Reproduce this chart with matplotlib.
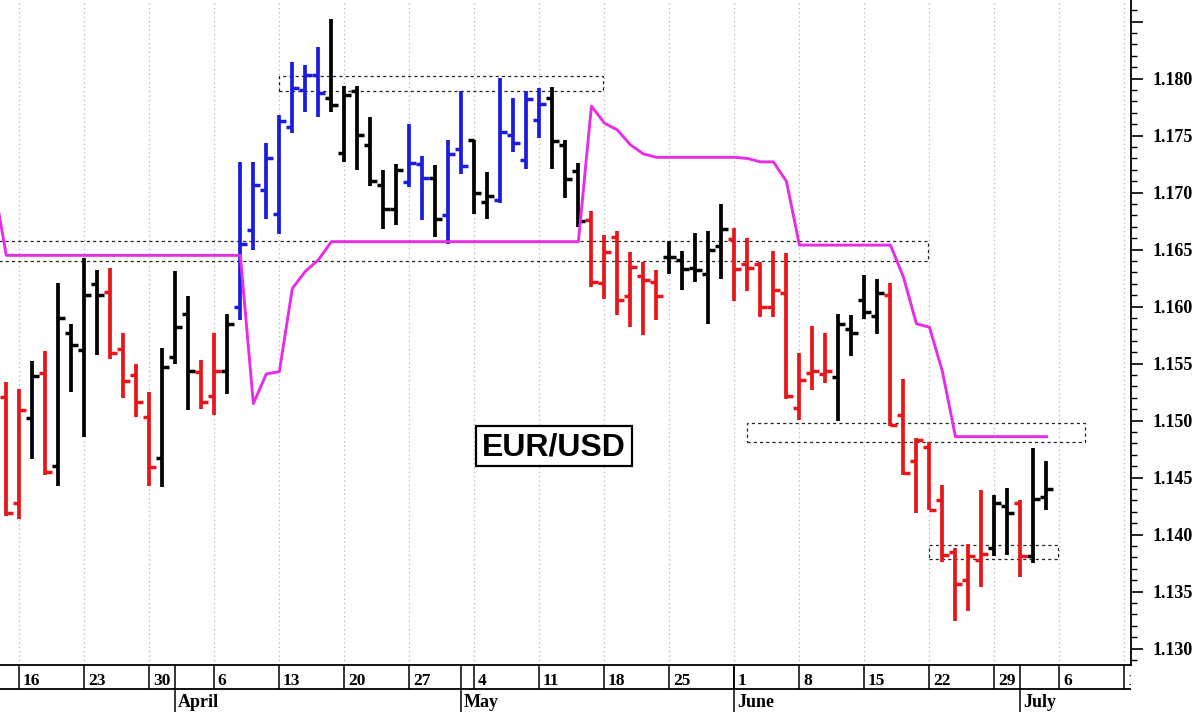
import matplotlib
matplotlib.use('Agg')
import matplotlib.pyplot as plt
from matplotlib.ticker import MultipleLocator, FuncFormatter
from matplotlib.patches import Rectangle

plt.rcParams['font.family'] = ['Liberation Serif', 'DejaVu Serif']
plt.rcParams['font.weight'] = 'bold'

# daily bars, index 0 = Monday 16 March
bar_x = list(range(-1, 80))
opens = [1.1521, 1.1428, 1.1502, 1.1542, 1.1460, 1.1577, 1.1562, 1.1620, 1.1613, 1.1563,
         1.1540, 1.1503, 1.1467, 1.1556, 1.1594, 1.1543, 1.1522, 1.1544, 1.1600, 1.1667,
         1.1702, 1.1681, 1.1758, 1.1790, 1.1803, 1.1783, 1.1735, 1.1789, 1.1742, 1.1707,
         1.1686, 1.1709, 1.1725, 1.1713, 1.1680, 1.1738, 1.1746, 1.1692, 1.1694, 1.1751,
         1.1729, 1.1764, 1.1783, 1.1742, 1.1719, 1.1676, 1.1621, 1.1661, 1.1609, 1.1627,
         1.1622, 1.1644, 1.1641, 1.1634, 1.1629, 1.1653, 1.1659, 1.1637, 1.1637, 1.1600,
         1.1612, 1.1511, 1.1542, 1.1541, 1.1538, 1.1580, 1.1606, 1.1592, 1.1610, 1.1505,
         1.1465, 1.1477, 1.1430, 1.1385, 1.1360, 1.1378, 1.1388, 1.1425, 1.1428, 1.1381,
         1.1433]
highs = [1.1534, 1.1528, 1.1552, 1.1561, 1.1621, 1.1585, 1.1643, 1.1632, 1.1634, 1.1577,
         1.1550, 1.1525, 1.1564, 1.1631, 1.1609, 1.1553, 1.1577, 1.1594, 1.1727, 1.1727,
         1.1744, 1.1768, 1.1815, 1.1812, 1.1828, 1.1852, 1.1794, 1.1794, 1.1766, 1.1720,
         1.1725, 1.1760, 1.1732, 1.1724, 1.1746, 1.1789, 1.1746, 1.1718, 1.1801, 1.1783,
         1.1789, 1.1792, 1.1793, 1.1746, 1.1726, 1.1684, 1.1663, 1.1666, 1.1648, 1.1639,
         1.1632, 1.1658, 1.1649, 1.1665, 1.1666, 1.1690, 1.1669, 1.1660, 1.1639, 1.1649,
         1.1647, 1.1559, 1.1583, 1.1577, 1.1594, 1.1593, 1.1628, 1.1624, 1.1621, 1.1537,
         1.1485, 1.1481, 1.1444, 1.1388, 1.1392, 1.1439, 1.1435, 1.1441, 1.1430, 1.1476,
         1.1465]
lows = [1.1416, 1.1414, 1.1466, 1.1452, 1.1443, 1.1525, 1.1486, 1.1558, 1.1554, 1.1520,
        1.1503, 1.1443, 1.1442, 1.1550, 1.1509, 1.1510, 1.1505, 1.1523, 1.1588, 1.1650,
        1.1677, 1.1664, 1.1752, 1.1771, 1.1766, 1.1771, 1.1727, 1.1720, 1.1706, 1.1668,
        1.1672, 1.1705, 1.1676, 1.1661, 1.1655, 1.1716, 1.1681, 1.1677, 1.1691, 1.1736,
        1.1721, 1.1748, 1.1721, 1.1695, 1.1670, 1.1617, 1.1607, 1.1593, 1.1582, 1.1575,
        1.1588, 1.1629, 1.1615, 1.1622, 1.1585, 1.1624, 1.1605, 1.1614, 1.1591, 1.1591,
        1.1519, 1.1501, 1.1527, 1.1533, 1.1500, 1.1557, 1.1589, 1.1576, 1.1495, 1.1452,
        1.1419, 1.1422, 1.1376, 1.1324, 1.1333, 1.1354, 1.1381, 1.1382, 1.1363, 1.1375,
        1.1422]
closes = [1.1419, 1.1509, 1.1539, 1.1455, 1.1590, 1.1566, 1.1610, 1.1610, 1.1559, 1.1535,
          1.1516, 1.1459, 1.1547, 1.1582, 1.1544, 1.1516, 1.1544, 1.1585, 1.1655, 1.1707,
          1.1730, 1.1763, 1.1792, 1.1803, 1.1787, 1.1777, 1.1786, 1.1751, 1.1710, 1.1686,
          1.1720, 1.1726, 1.1713, 1.1677, 1.1734, 1.1723, 1.1700, 1.1697, 1.1753, 1.1744,
          1.1782, 1.1778, 1.1745, 1.1712, 1.1675, 1.1622, 1.1648, 1.1606, 1.1635, 1.1623,
          1.1609, 1.1644, 1.1633, 1.1632, 1.1650, 1.1668, 1.1633, 1.1634, 1.1600, 1.1615,
          1.1522, 1.1536, 1.1544, 1.1544, 1.1585, 1.1577, 1.1595, 1.1612, 1.1496, 1.1454,
          1.1483, 1.1422, 1.1382, 1.1357, 1.1381, 1.1383, 1.1428, 1.1419, 1.1381, 1.1431,
          1.1440]
trend = ['r', 'r', 'k', 'r', 'k', 'k', 'k', 'k', 'r', 'r',
         'r', 'r', 'k', 'k', 'k', 'r', 'r', 'k', 'b', 'b',
         'b', 'b', 'b', 'b', 'b', 'k', 'k', 'k', 'k', 'k',
         'k', 'b', 'b', 'k', 'b', 'b', 'k', 'k', 'b', 'b',
         'b', 'b', 'k', 'k', 'k', 'r', 'r', 'r', 'r', 'r',
         'r', 'k', 'k', 'k', 'k', 'k', 'r', 'r', 'r', 'r',
         'r', 'r', 'r', 'r', 'k', 'k', 'k', 'k', 'r', 'r',
         'r', 'r', 'r', 'r', 'r', 'r', 'k', 'k', 'r', 'k',
         'k']

# magenta stop line
stop_x = list(range(-2, 80))
stop = [1.1710, 1.1645, 1.1645, 1.1645, 1.1645, 1.1645, 1.1645, 1.1645, 1.1645, 1.1645,
        1.1645, 1.1645, 1.1645, 1.1645, 1.1645, 1.1645, 1.1645, 1.1645, 1.1645, 1.1645,
        1.1515, 1.1541, 1.1543, 1.1616, 1.1631, 1.1641, 1.1657, 1.1657, 1.1657, 1.1657,
        1.1657, 1.1657, 1.1657, 1.1657, 1.1657, 1.1657, 1.1657, 1.1657, 1.1657, 1.1657,
        1.1657, 1.1657, 1.1657, 1.1657, 1.1657, 1.1657, 1.1776, 1.1761, 1.1755, 1.1742,
        1.1734, 1.1731, 1.1731, 1.1731, 1.1731, 1.1731, 1.1731, 1.1731, 1.1730, 1.1727,
        1.1727, 1.1710, 1.1654, 1.1654, 1.1654, 1.1654, 1.1654, 1.1654, 1.1654, 1.1654,
        1.1626, 1.1585, 1.1582, 1.1543, 1.1486, 1.1486, 1.1486, 1.1486, 1.1486, 1.1486,
        1.1486, 1.1486]

# dotted zones
zone_left = [20, -2, 56, 70]
zone_right = [44.87, 69.9, 82, 79.9]
zone_low = [1.1789, 1.1640, 1.1481, 1.1379]
zone_high = [1.1802, 1.1658, 1.1498, 1.1391]

# calendar
week_x = list(range(0, 90, 5))
week_labels = ['16', '23', '30', '6', '13', '20', '27', '4', '11', '18',
               '25', '1', '8', '15', '22', '29', '6', '13']
month_x = [12, 34, 55, 77]
month_labels = ['April', 'May', 'June', 'July']

colors = {'r': '#e8161b', 'k': '#000000', 'b': '#1c1ce0'}
bar_cols = [colors[t] for t in trend]

W, H = 1200, 712
fig = plt.figure(figsize=(12, 7.12), dpi=100)
ax = fig.add_axes([0, 47 / H, 1131 / W, 665 / H])
dax = fig.add_axes([0, 0, 1131 / W, 47 / H])

x0, x1 = -1.485, 85.5

ax.set_xticks(week_x)
ax.tick_params(axis='x', length=0, labelbottom=False)
ax.grid(axis='x', color='#b0b0b0', linestyle=(0, (1, 2.5)), linewidth=0.9)
ax.set_axisbelow(True)
ax.set_xlim(x0, x1)
ax.set_ylim(1.12857, 1.1869)

for sp in ['left', 'top']:
    ax.spines[sp].set_visible(False)
for sp in ['right', 'bottom']:
    ax.spines[sp].set_linewidth(1.3)

ax.yaxis.tick_right()
ax.yaxis.set_major_locator(MultipleLocator(0.005))
ax.yaxis.set_minor_locator(MultipleLocator(0.001))
ax.yaxis.set_major_formatter(FuncFormatter(lambda v, p: '%.3f' % v if v < 1.1825 else ''))
ax.tick_params(axis='y', which='major', direction='out', length=8.5, width=1.2,
               labelsize=13, pad=7)
ax.tick_params(axis='y', which='minor', direction='out', length=4, width=1)

# zones
for l, r, lo, hi in zip(zone_left, zone_right, zone_low, zone_high):
    ax.add_patch(Rectangle((l, lo), r - l, hi - lo, fill=False, edgecolor='#222222',
                           linewidth=0.9, linestyle=(0, (2.5, 2.5)), zorder=2))

# OHLC bars
tk = 0.5
vl = ax.vlines(bar_x, lows, highs, colors=bar_cols, linewidth=2.7, zorder=3)
ol = ax.hlines(opens, [x - tk for x in bar_x], bar_x, colors=bar_cols, linewidth=2.5, zorder=3)
cl = ax.hlines(closes, bar_x, [x + tk for x in bar_x], colors=bar_cols, linewidth=2.5, zorder=3)
for c in (vl, ol, cl):
    c.set_capstyle('butt')

ax.plot(stop_x, stop, color='#e62ee6', linewidth=2.1, zorder=4)

# label box
ax.add_patch(Rectangle((0.4209, 0.2992), 0.1377, 0.0602, transform=ax.transAxes,
                       facecolor='white', edgecolor='black', linewidth=1.6, zorder=5))
ax.text(0.490, 0.315, 'EUR/USD', transform=ax.transAxes, ha='center', va='baseline',
        fontsize=23, family='Liberation Sans', fontweight='bold', zorder=6)

# calendar strip
dax.set_xlim(x0, x1)
dax.set_ylim(47, 0)
dax.axis('off')
dax.hlines(24.3, x0, x1, colors='black', linewidth=1.3)
dax.vlines(week_x, 0, 24.3, colors='black', linewidth=1.1)
dax.vlines(month_x, 0, 47, colors='black', linewidth=1.1)
for x, lab in zip(week_x, week_labels):
    dax.text(x + 0.27, 20, lab, ha='left', va='baseline', fontsize=12.5, clip_on=True)
for x, lab in zip(month_x, month_labels):
    dax.text(x + 0.2, 42, lab, ha='left', va='baseline', fontsize=13, clip_on=True)

fig.savefig('out.png', dpi=100)
